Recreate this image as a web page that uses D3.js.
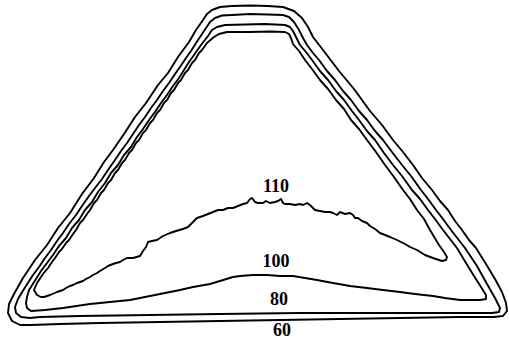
<!DOCTYPE html>
<html>
<head>
<meta charset="utf-8">
<script src="https://cdn.jsdelivr.net/npm/d3@7"></script>
<style>
  html, body { margin: 0; padding: 0; background: #fff; }
  svg { display: block; }
</style>
</head>
<body>
<div id="chart"></div>
<script>
// Iso-lines across the cross-section; coordinates are [across, depth] in section units.
const levels = [60, 80, 100, 110];

const iso60 = [
  [30,325],[20,325],[12,321],[8,313],[9,304],[14,294],[23,278],[35,260],[47,245],[58,228],[70,213],[82,194],
  [94,178],[104,162],[113,150],[124,134],[135,117],[146,103],[158,85],[168,73],[178,57],[189,42],[196,30],
  [203,20],[207,14],[212,10],[220,7],[232,6],[250,5.5],[268,6],[283,7],[294,11],[302,18],[308,27],[313,37],
  [323,50],[339,71],[354,89],[370,111],[382,125],[393,140],[403,152],[413,165],[422,178],[432,190],
  [440,201],[448,210],[455,221],[462,230],[469,240],[476,248],[486,264],[495,279],[502,292],[506,303],
  [507,311],[503,316],[494,317],[460,317],[400,318],[340,319],[280,320],[220,321],[160,322],[100,323],[60,324]
];

const iso80 = [
  [30,318],[21,317],[16,313],[15,307],[18,299],[24,289],[33,275],[39,267],[45,258],[51,250],[57,241],
  [63,233],[69,224],[76,215],[82,206],[89,196],[95,188],[102,179],[108,170],[115,160],[121,151],[127,143],
  [133,134],[139,125],[145,117],[151,108],[157,100],[163,91],[169,83],[175,74],[180,67],[186,58],[191,51],
  [198,40],[204,31],[210,22],[215,18],[222,15.5],[232,15],[250,14],[268,14.5],[283,15],[289,17],[294,22],
  [299,30],[303,38],[307,45],[313,53],[319,60],[327,71],[335,80],[343,91],[351,100],[359,111],[367,120],
  [375,131],[383,140],[392,152],[402,165],[411,176],[421,190],[428,199],[436,210],[443,219],[451,230],
  [458,239],[465,248],[477,266],[487,284],[495,298],[500,308],[499,312],[492,313],[450,313],
  [380,313],[300,313],[220,314],[150,315],[80,316],[40,317]
];

const iso100 = [
  [31,311],[27,308],[26,303],[27,297],[29,290],[36,279],[41,271],[47,263],[53,255],[59,246],[66,238],
  [72,228],[79,220],[85,210],[92,202],[98,192],[105,183],[111,173],[118,165],[124,155],[131,147],[137,137],
  [143,129],[149,120],[155,112],[161,103],[167,95],[173,86],[179,78],[184,70],[189,62],[194,55],[201,45],
  [208,36],[212,30],[217,27],[225,25],[245,24.5],[265,24],[285,25],[290,27],[293,31],[296,37],[300,45],
  [306,52],[312,60],[320,71],[328,80],[336,91],[344,100],[352,111],[359,120],[367,131],[375,140],
  [384,153],[393,165],[402,176],[412,190],[420,199],[428,210],[435,219],[443,230],[450,239],[457,248],
  [466,263],[474,276],[481,287],[486,295],[486,299],[480,300],[470,300],[460,300],[445,298],[433,296],
  [415,294],[400,292],[383,290],[367,288],[350,286],[333,283],[317,280],[305,278],[293,276],[280,276],
  [267,275],[253,275],[240,276],[233,277],[220,281],[210,284],[193,287],[180,290],[165,293],[150,296],
  [130,300],[110,302],[90,304],[63,308],[45,310]
];

const iso110 = [
  [41,297],[37,295],[34,290],[37,283],[43,274],[48,268],[52,262],[55,258],[59,252],[62,249],[66,243],
  [69,240],[73,234],[76,230],[80,223],[83,220],[87,214],[90,210],[94,203],[97,200],[101,193],[104,190],
  [108,183],[111,180],[115,173],[118,170],[122,163],[125,160],[129,153],[132,150],[136,143],[139,140],
  [143,133],[146,130],[150,123],[153,120],[157,113],[160,110],[164,103],[167,100],[171,93],[174,90],
  [178,83],[181,80],[185,73],[188,70],[192,63],[195,60],[199,53],[202,50],[207,43],[214,37],[219,34],
  [227,32],[250,32],[270,31.5],[285,32],[289,34],[291,38],[293,44],[299,51],[305,60],[312,69],[320,80],
  [328,89],[336,100],[344,109],[351,120],[359,129],[367,140],[376,152],[385,165],[394,177],[403,190],
  [410,199],[417,210],[424,219],[430,230],[439,245],[444,252],[447,257],[446,260],[442,261],
  [433,258],[425,255],[417,250],[410,247],[405,244],[397,240],[390,237],[385,235],[380,233],[375,229],
  [370,226],[367,223],[362,221],[358,218],[355,218],[353,215],[350,213],[345,214],[340,212],[337,215],
  [333,213],[330,212],[325,212],[320,211],[315,210],[313,208],[310,205],[307,203],[303,205],[300,204],
  [295,205],[290,204],[285,204],[283,203],[281,199],[278,201],[275,202],[270,203],[266,201],[263,203],
  [258,203],[255,202],[252,198],[250,199],[247,203],[243,204],[238,206],[233,208],[228,208],[223,210],
  [218,210],[213,212],[208,214],[203,216],[200,217],[197,218],[193,222],[188,227],[183,229],[176,231],
  [170,233],[163,236],[157,240],[152,241],[148,242],[146,247],[143,251],[140,256],[133,258],[127,258],
  [123,260],[120,262],[116,263],[113,264],[108,266],[105,268],[100,271],[97,273],[93,275],[90,277],
  [86,279],[83,281],[80,282],[77,283],[73,285],[70,286],[66,288],[63,290],[60,291],[57,292],
  [50,295],[44,297]
];

const isoLines = [iso60, iso80, iso100, iso110];

// Where each level's value is written, in section units.
const labelX = [282, 279, 276, 276];
const labelY = [336, 305, 267, 192];

const width = 509, height = 344;

const x = d3.scaleLinear().domain([0, 509]).range([0, width]);
const y = d3.scaleLinear().domain([0, 344]).range([0, height]);

const svg = d3.select("#chart").append("svg")
  .attr("width", width)
  .attr("height", height);

const line = d3.line()
  .x(d => x(d[0]))
  .y(d => y(d[1]))
  .curve(d3.curveLinearClosed);

svg.append("g")
  .selectAll("path")
  .data(isoLines)
  .join("path")
  .attr("d", line)
  .attr("fill", "none")
  .attr("stroke", "#000")
  .attr("stroke-width", 1.9)
  .attr("stroke-linejoin", "round");

svg.append("g")
  .selectAll("text")
  .data(levels)
  .join("text")
  .attr("x", (d, i) => x(labelX[i]))
  .attr("y", (d, i) => y(labelY[i]))
  .attr("text-anchor", "middle")
  .attr("font-family", "'Liberation Serif', 'Times New Roman', serif")
  .attr("font-weight", "bold")
  .attr("font-size", 18)
  .attr("fill", "#000")
  .text(d => d);
</script>
</body>
</html>
